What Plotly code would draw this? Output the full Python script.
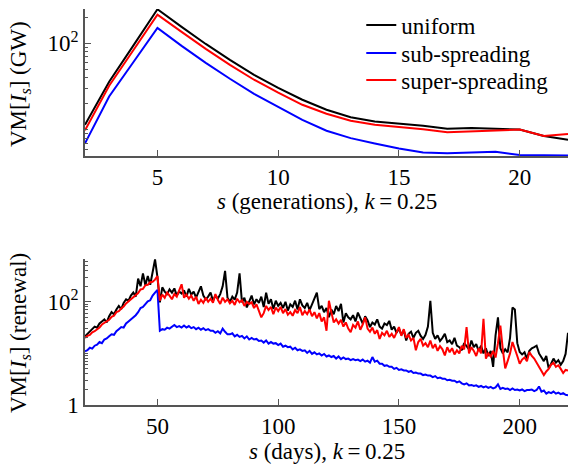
import plotly.graph_objects as go

# ---------------- top panel: generations ----------------
gen_s = list(range(2, 23))
gen_uniform = [11.5, 35.9, 93.8, 246, 154, 98, 64.3, 43.2, 30.6, 22.3, 17.1,
               14.0, 12.5, 11.8, 11.2, 10.3, 10.5, 10.3, 10.1, 8.5, 7.7]
gen_sub = [7.0, 24.3, 60.3, 150, 93, 59.4, 38.9, 26.1, 18.5, 13.1, 9.8,
           8.05, 7.0, 6.1, 5.5, 5.4, 5.5, 5.6, 5.15, 5.08, 5.08]
gen_super = [9.9, 32.3, 82.8, 213, 135, 86, 56.3, 37.9, 26.9, 19.5, 15.4,
             12.8, 11.5, 10.9, 10.2, 9.4, 9.6, 9.8, 10.1, 8.5, 9.0]

# ---------------- bottom panel: renewal (days 20..220) ----------------
day_s = list(range(20, 221))
ren_uniform = [
    21.4, 24.0, 26.3, 29.5, 33.1, 31.6, 38.0, 41.7, 45.7, 39.8,
    52.5, 63.1, 57.5, 70.8, 83.2, 72.4, 95.5, 112, 105, 132,
    151, 126, 282, 200, 355, 209, 316, 214, 363, 661, 302,
    97.7, 191, 158, 141, 174, 151, 182, 132, 158, 145,
    166, 126, 178, 138, 158, 120, 151, 200, 132, 112,
    126, 151, 105, 132, 115, 141, 200, 398, 120, 100,
    126, 110, 151, 355, 97.7, 120, 77.6, 105, 132, 89.1,
    112, 95.5, 126, 79.4, 151, 91.2, 112, 72.4, 105, 83.2,
    95.5, 75.9, 100, 67.6, 89.1, 79.4, 105, 70.8, 112, 85.1,
    75.9, 95.5, 69.2, 89.1, 120, 151, 72.4, 83.2, 63.1, 75.9,
    50.1, 70.8, 57.5, 83.2, 66.1, 91.2, 39.8, 60.3, 50.1, 45.7,
    55.0, 41.7, 61.7, 47.9, 38.0, 52.5, 43.7, 32.4, 39.8, 36.3,
    45.7, 33.1, 30.2, 38.0, 35.5, 42.7, 28.8, 33.1, 25.1, 30.2,
    22.9, 28.2, 17.8, 24.0, 26.3, 20.0, 25.1, 27.5, 21.9, 19.1,
    22.9, 33.1, 105, 25.1, 19.1, 22.4, 17.4, 20.0, 24.0, 16.6,
    17.8, 15.1, 20.0, 14.1, 13.2, 11.5, 15.8, 13.8, 12.0, 17.8,
    13.2, 15.1, 11.2, 14.1, 10.0, 12.6, 8.91, 11.2, 5.50, 22.4,
    50.1, 12.6, 10.0, 12.0, 10.5, 20.0, 77.6, 70.8, 15.8, 10.7,
    9.55, 10.5, 7.94, 11.2, 12.6, 13.2, 14.1, 10.0, 8.32, 7.08,
    8.91, 5.13, 6.31, 7.94, 6.61, 7.41, 6.03, 7.08, 9.77, 25.1,
]
ren_sub = [
    11.0, 11.5, 12.9, 12.4, 14.1, 14.8, 16.6, 15.8, 18.6, 19.5,
    21.4, 23.4, 22.9, 26.9, 29.5, 32.4, 31.6, 38.0, 41.7, 45.7,
    49.0, 55.0, 63.1, 75.9, 79.4, 91.2, 102, 107, 132, 151, 170,
    27.5, 29.5, 28.8, 31.6, 30.2, 33.1, 35.5, 32.4, 33.9, 31.6,
    34.7, 31.6, 33.9, 30.9, 32.4, 29.5, 31.6, 28.8, 30.9, 28.2,
    29.5, 27.5, 27.5, 25.1, 26.9, 24.5, 30.2, 26.3, 23.4, 23.4,
    24.5, 21.4, 22.9, 20.9, 21.9, 19.5, 21.4, 18.6, 20.0, 18.6,
    19.1, 17.4, 17.8, 16.2, 17.8, 15.5, 16.6, 15.5, 15.8, 14.5,
    15.5, 13.5, 14.1, 13.2, 13.5, 12.0, 12.9, 11.5, 12.0, 11.2,
    11.5, 10.2, 11.2, 9.77, 10.5, 9.55, 10.0, 9.12, 9.77, 8.71,
    9.12, 8.51, 8.91, 7.94, 8.71, 7.76, 8.32, 7.76, 7.94, 7.41,
    7.76, 7.41, 7.59, 7.08, 7.59, 6.92, 7.24, 6.61, 8.51, 6.92,
    7.24, 6.31, 6.31, 5.75, 5.89, 5.50, 5.50, 5.01, 5.25, 4.79,
    4.90, 4.68, 4.68, 4.37, 4.57, 4.17, 4.27, 4.07, 4.07, 3.80,
    3.89, 3.72, 3.72, 3.47, 3.63, 3.31, 3.39, 3.24, 3.24, 3.02,
    3.09, 2.95, 2.95, 2.75, 2.88, 2.63, 2.51, 2.63, 2.40, 2.45,
    2.34, 2.40, 2.24, 2.34, 2.19, 2.29, 2.14, 2.24, 2.09, 2.19,
    2.51, 2.04, 2.14, 2.04, 2.09, 1.95, 2.09, 1.95, 2.00, 1.91,
    2.00, 1.86, 1.95, 1.95, 2.00, 1.86, 1.95, 2.29, 1.82, 1.91,
    1.66, 1.78, 1.70, 1.82, 1.66, 1.74, 1.62, 1.70, 1.58, 1.55,
]
ren_super = [
    20.0, 21.9, 22.9, 25.7, 26.9, 29.5, 31.6, 36.3, 38.9, 42.7,
    44.7, 51.3, 53.7, 63.1, 66.1, 74.1, 81.3, 93.3, 102, 115,
    123, 138, 148, 174, 178, 209, 214, 240, 245, 269, 316,
    105, 138, 120, 151, 132, 112, 141, 126, 166, 219,
    120, 138, 115, 132, 105, 126, 91.2, 110, 95.5, 120,
    100, 115, 95.5, 141, 110, 91.2, 120, 100, 112, 93.3,
    105, 87.1, 115, 97.7, 107, 83.2, 100, 91.2, 97.7, 75.9,
    89.1, 66.1, 50.1, 60.3, 83.2, 69.2, 79.4, 57.5, 77.6, 66.1,
    79.4, 60.3, 72.4, 56.2, 63.1, 53.7, 69.2, 60.3, 79.4, 55.0,
    66.1, 57.5, 70.8, 52.5, 63.1, 47.9, 60.3, 41.7, 50.1, 27.5,
    105, 63.1, 39.8, 45.7, 38.0, 44.7, 33.1, 39.8, 30.2, 25.7,
    35.5, 31.6, 41.7, 28.8, 36.3, 50.1, 30.2, 26.3, 31.6, 24.0,
    28.2, 19.1, 25.1, 22.4, 27.5, 20.9, 24.0, 20.0, 26.3, 32.4,
    21.9, 29.5, 20.0, 22.9, 17.8, 20.0, 11.5, 16.6, 19.1, 14.1,
    15.8, 13.2, 17.8, 12.6, 15.1, 11.2, 13.8, 12.0, 9.12, 13.2,
    10.5, 12.6, 9.55, 11.5, 10.0, 14.1, 12.0, 32.4, 10.0, 13.2,
    11.2, 8.91, 12.6, 10.0, 46.8, 7.94, 10.0, 8.71, 11.2, 8.32,
    15.8, 34.7, 12.0, 5.13, 7.08, 10.0, 16.6, 12.6, 8.91, 6.31,
    7.59, 8.32, 7.08, 10.7, 8.91, 7.94, 6.61, 5.62, 4.79, 3.80,
    4.47, 5.01, 6.03, 6.61, 5.50, 5.89, 5.01, 4.17, 4.79, 4.68,
]

names = ["uniform", "sub-spreading", "super-spreading"]
colors = ["#000000", "#0000ff", "#ff0000"]
legend_ids = ["legend", "legend2", "legend3"]

top_x_ticks = [5, 10, 15, 20]
bot_x_ticks = [50, 100, 150, 200]
top_y_ticks = [100]
top_y_ticktext = ["10<sup>2</sup>"]
bot_y_ticks = [1, 100]
bot_y_ticktext = ["1", "10<sup>2</sup>"]
top_y_minor = [6, 7, 8, 9, 10, 20, 30, 40, 50, 60, 70, 80, 90, 200]
bot_y_minor = [2, 3, 4, 5, 6, 7, 8, 9, 10, 20, 30, 40, 50, 60, 70, 80, 90,
               200, 300, 400, 500, 600]

FONT = "Liberation Serif"
AX = "#555555"
FS = 23

fig = go.Figure()
for name, col, ys, lg in zip(names, colors, [gen_uniform, gen_sub, gen_super], legend_ids):
    fig.add_trace(go.Scatter(x=gen_s, y=ys, mode="lines", name=name,
                             line=dict(color=col, width=2),
                             xaxis="x", yaxis="y", showlegend=True, legend=lg))
for name, col, ys in zip(names, colors, [ren_uniform, ren_sub, ren_super]):
    fig.add_trace(go.Scatter(x=day_s, y=ys, mode="lines", name=name,
                             line=dict(color=col, width=2),
                             xaxis="x2", yaxis="y2", showlegend=False))

axis_common = dict(showline=True, linecolor=AX, linewidth=1.5, ticks="inside",
                   tickcolor=AX, ticklen=6, tickwidth=1.2, showgrid=False,
                   zeroline=False, mirror=False,
                   tickfont=dict(family=FONT, size=FS, color="#000"))

legend_common = dict(x=0.572, xanchor="left", yanchor="middle",
                     bgcolor="rgba(0,0,0,0)", borderwidth=0,
                     font=dict(family=FONT, size=FS, color="#000"))

fig.update_layout(
    width=568, height=472,
    margin=dict(l=85, r=0, t=9, b=67, autoexpand=False),
    paper_bgcolor="white", plot_bgcolor="white",
    font=dict(family=FONT, size=FS, color="#000"),
    xaxis=dict(domain=[0, 1], anchor="y", range=[2, 22], tickmode="array",
               tickvals=top_x_ticks, **axis_common),
    yaxis=dict(domain=[0.6288, 1], anchor="x", type="log", range=[0.70, 2.394],
               tickmode="array", tickvals=top_y_ticks, ticktext=top_y_ticktext,
               minor=dict(tickmode="array", tickvals=top_y_minor, ticks="inside",
                          ticklen=3, tickcolor=AX, tickwidth=1),
               **axis_common),
    xaxis2=dict(domain=[0, 1], anchor="y2", range=[20, 220], tickmode="array",
                tickvals=bot_x_ticks, **axis_common),
    yaxis2=dict(domain=[0, 0.3687], anchor="x2", type="log", range=[0, 2.83],
                tickmode="array", tickvals=bot_y_ticks, ticktext=bot_y_ticktext,
                minor=dict(tickmode="array", tickvals=bot_y_minor, ticks="inside",
                           ticklen=3, tickcolor=AX, tickwidth=1),
                **axis_common),
    legend=dict(y=0.9596, **legend_common),
    legend2=dict(y=0.8889, **legend_common),
    legend3=dict(y=0.8207, **legend_common),
    annotations=[
        dict(text="<i>s</i> (generations), <i>k</i>\u2009=\u20090.25",
             xref="paper", yref="paper", x=0.5, y=0.5135, xanchor="center",
             yanchor="middle", showarrow=False, font=dict(family=FONT, size=FS)),
        dict(text="<i>s</i> (days), <i>k</i>\u2009=\u20090.25",
             xref="paper", yref="paper", x=0.5, y=-0.117, xanchor="center",
             yanchor="middle", showarrow=False, font=dict(family=FONT, size=FS)),
        dict(text="VM[<i>I</i><sub><i>s</i></sub>] (GW)", textangle=-90,
             xref="paper", yref="paper", x=0, xshift=-65, y=0.8106,
             xanchor="center", yanchor="middle", showarrow=False,
             font=dict(family=FONT, size=FS)),
        dict(text="VM[<i>I</i><sub><i>s</i></sub>] (renewal)", textangle=-90,
             xref="paper", yref="paper", x=0, xshift=-65, y=0.1818,
             xanchor="center", yanchor="middle", showarrow=False,
             font=dict(family=FONT, size=FS)),
    ],
)

fig.write_html("out.html", config={"displayModeBar": False},
               post_script="document.body.style.margin='0';document.body.style.overflow='hidden';")
